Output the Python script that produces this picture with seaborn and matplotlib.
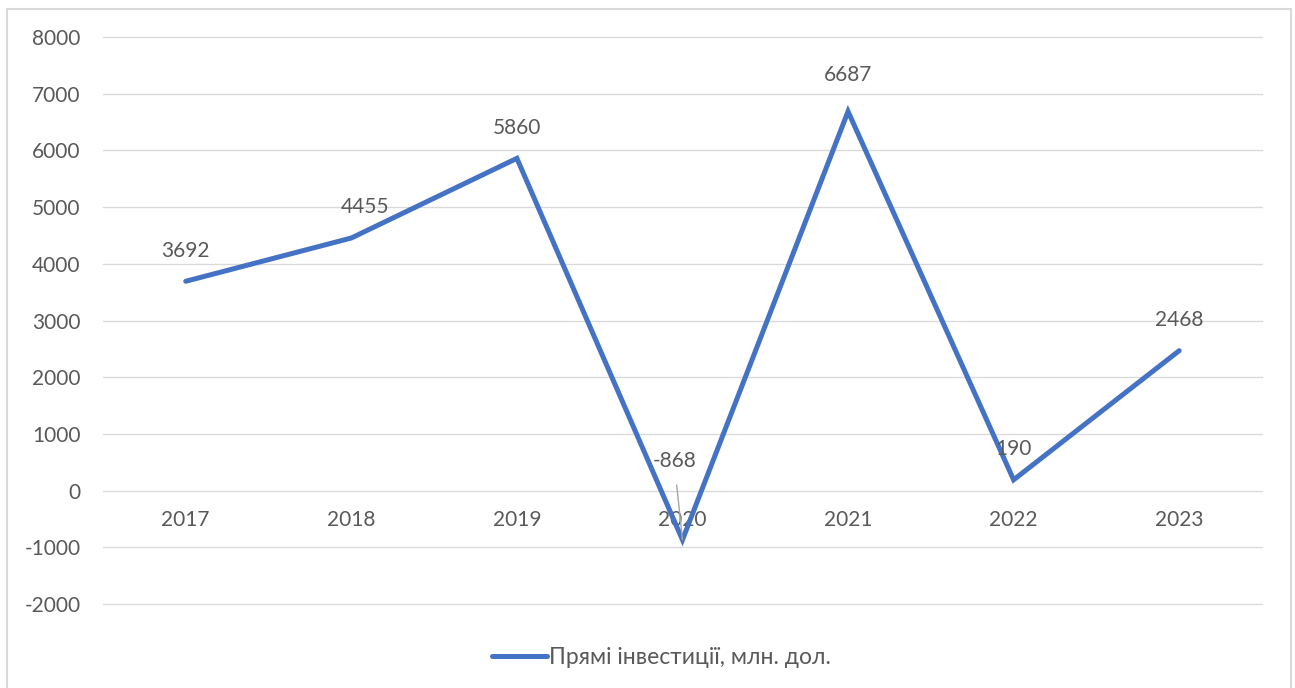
import pandas as pd
import matplotlib.pyplot as plt
import seaborn as sns
from matplotlib.patches import Rectangle

# Chart data
years = ["2017", "2018", "2019", "2020", "2021", "2022", "2023"]
investments = [3692, 4455, 5860, -868, 6687, 190, 2468]
series_name = "Прямі інвестиції, млн. дол."

df = pd.DataFrame({"year": years, "value": investments})

sns.set_style("white")
plt.rcParams["font.family"] = ["Lato", "DejaVu Sans"]
plt.rcParams["axes.unicode_minus"] = False

text_color = "#595959"
grid_color = "#D9D9D9"
line_color = "#4472C4"

fig = plt.figure(figsize=(12.95, 6.88), dpi=100)
ax = fig.add_axes([0.0795, 0.1221, 0.8950, 0.8241])

sns.lineplot(data=df, x="year", y="value", ax=ax, color=line_color,
             linewidth=3.6, solid_capstyle="round", solid_joinstyle="miter",
             label=series_name, legend=False)

ax.set_ylim(-2000, 8000)
ax.set_xlim(-0.5, len(years) - 0.5)
ax.set_yticks(range(-2000, 8001, 1000))
ax.grid(axis="y", color=grid_color, linewidth=0.95)
for gl in ax.get_ygridlines():
    gl.set_clip_on(False)
ax.set_axisbelow(True)
for s in ax.spines.values():
    s.set_visible(False)

# category labels sit on the zero line, like in Excel
ax.spines["bottom"].set_position(("data", 0))
ax.tick_params(axis="x", length=0, pad=14, labelsize=15, labelcolor=text_color)
ax.tick_params(axis="y", length=0, pad=16, labelsize=15, labelcolor=text_color)
ax.set_xlabel("")
ax.set_ylabel("")

# data labels (offsets in points above each point)
label_offsets = [(0, 22), (10, 22), (0, 22), (-6, 57), (0, 26), (0, 22), (0, 22)]
for i, (v, off) in enumerate(zip(investments, label_offsets)):
    if v < 0:
        ax.annotate(str(v), xy=(i, v), xytext=off, textcoords="offset points",
                    ha="center", va="center", fontsize=15, color=text_color,
                    arrowprops=dict(arrowstyle="-", color="#A6A6A6", lw=1,
                                    shrinkA=8, shrinkB=0))
    else:
        ax.annotate(str(v), xy=(i, v), xytext=off, textcoords="offset points",
                    ha="center", va="center", fontsize=15, color=text_color)

# legend at the bottom
handles, labels = ax.get_legend_handles_labels()
fig.legend(handles, labels, loc="center", bbox_to_anchor=(0.511, 0.045),
           frameon=False, fontsize=16.5, labelcolor=text_color,
           handlelength=2.4, handletextpad=0.1)

# chart border
fig.patches.append(Rectangle((7 / 1295, -0.01), 1284 / 1295, 1 - 9 / 688 + 0.01,
                             transform=fig.transFigure, fill=False,
                             edgecolor=grid_color, linewidth=1.5))

fig.savefig("out.png", dpi=100)
